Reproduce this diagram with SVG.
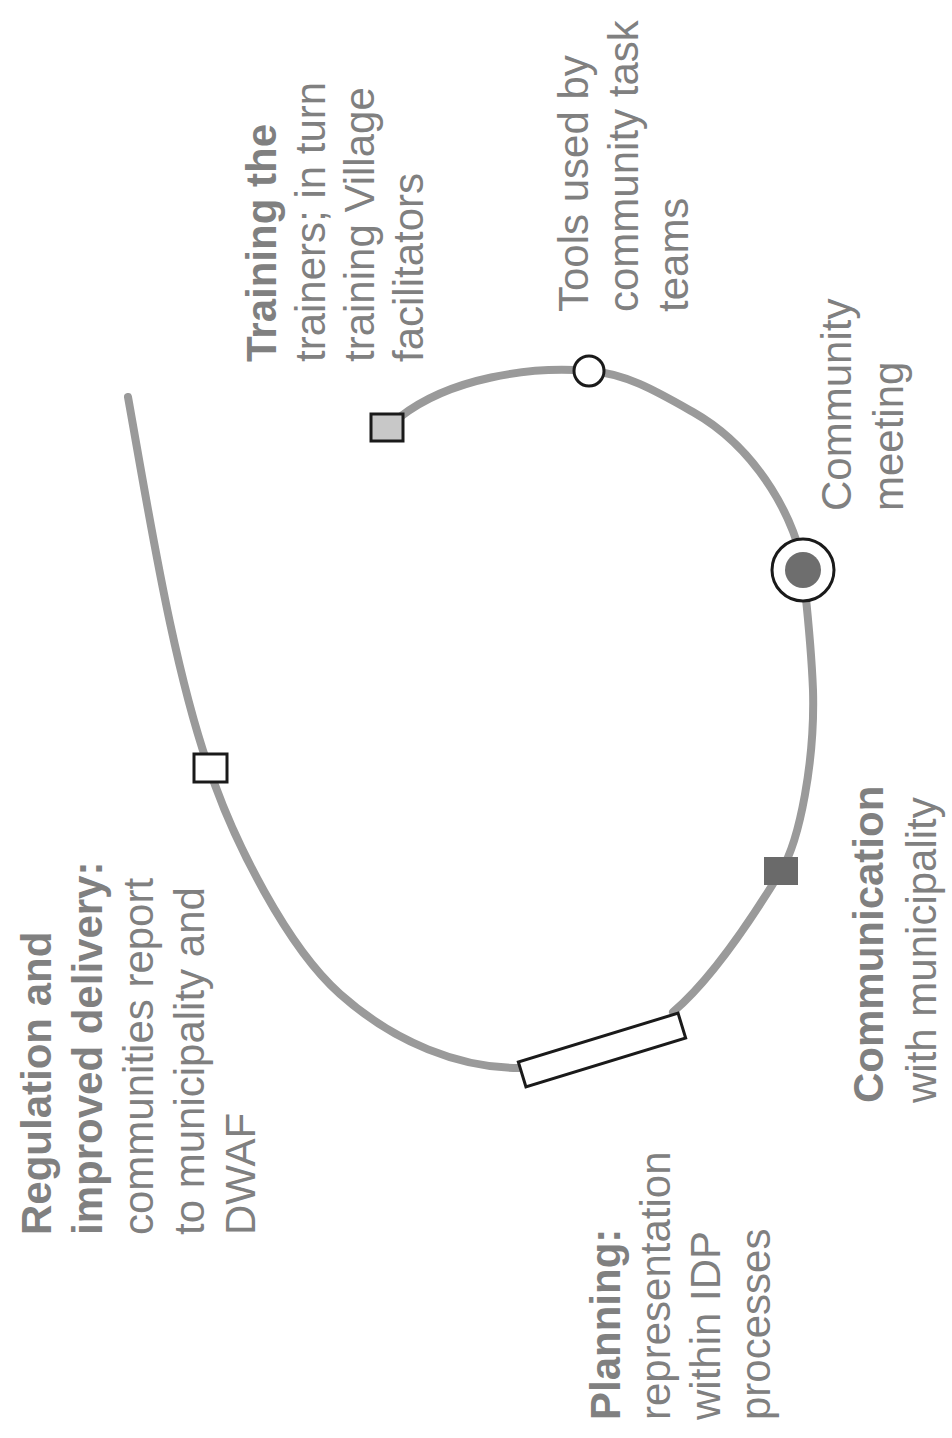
<svg xmlns="http://www.w3.org/2000/svg" width="952" height="1438" viewBox="0 0 952 1438">
<style>
.lbl{font-family:"Liberation Sans",Arial,sans-serif;font-size:42px;fill:#808080}
.b{font-weight:bold}
.curve{fill:none;stroke:#9a9a9a;stroke-width:8;stroke-linecap:round}
.mk{stroke:#1a1a1a;stroke-width:3}
</style>
<rect width="952" height="1438" fill="#ffffff"/>
<g id="connectors">
<path class="curve" d="M128,397 C150,520 175,680 215,785 C235,840 285,945 340,994 C395,1043 460,1068 519,1068"/>
<path class="curve" d="M673,1012 C705,985 745,930 781,871 C800,840 815,760 813,690 C811,640 806,600 803,570 C798,525 760,450 693,412 C656,391 625,373 589,371 C530,366 450,378 400,417"/>
</g>
<g id="node-regulation">
<rect class="mk" x="194" y="754" width="33" height="28" fill="#ffffff"/>
<text class="lbl" transform="translate(51,1235) rotate(-90)"><tspan x="0" class="b">Regulation and</tspan><tspan x="0" dy="51" class="b">improved delivery:</tspan><tspan x="0" dy="51">communities report</tspan><tspan x="0" dy="51">to municipality and</tspan><tspan x="0" dy="51">DWAF</tspan></text>
</g>
<g id="node-planning">
<rect class="mk" x="-83.5" y="-13" width="167" height="26" fill="#ffffff" transform="translate(602,1050) rotate(-17)"/>
<text class="lbl" transform="translate(620,1420) rotate(-90)"><tspan x="0" class="b">Planning:</tspan><tspan x="0" dy="50">representation</tspan><tspan x="0" dy="50">within IDP</tspan><tspan x="0" dy="50">processes</tspan></text>
</g>
<g id="node-communication">
<rect x="764" y="857" width="34" height="28" fill="#6a6a6a"/>
<text class="lbl" transform="translate(883,1103) rotate(-90)"><tspan x="0" class="b">Communication</tspan><tspan x="0" dy="53">with municipality</tspan></text>
</g>
<g id="node-meeting">
<circle class="mk" cx="803" cy="570" r="31" fill="#ffffff"/>
<circle cx="803" cy="570" r="18" fill="#6e6e6e"/>
<text class="lbl" transform="translate(851,511) rotate(-90)"><tspan x="0">Community</tspan><tspan x="0" dy="52">meeting</tspan></text>
</g>
<g id="node-tools">
<circle class="mk" cx="589" cy="371" r="15" fill="#ffffff"/>
<text class="lbl" transform="translate(588,312) rotate(-90)"><tspan x="0">Tools used by</tspan><tspan x="0" dy="50">community task</tspan><tspan x="0" dy="50">teams</tspan></text>
</g>
<g id="node-training">
<rect class="mk" x="371" y="414" width="32" height="27" fill="#c8c8c8"/>
<text class="lbl" transform="translate(276,362) rotate(-90)"><tspan x="0" class="b">Training the</tspan><tspan x="0" dy="49">trainers; in turn</tspan><tspan x="0" dy="49">training Village</tspan><tspan x="0" dy="49">facilitators</tspan></text>
</g>
</svg>
